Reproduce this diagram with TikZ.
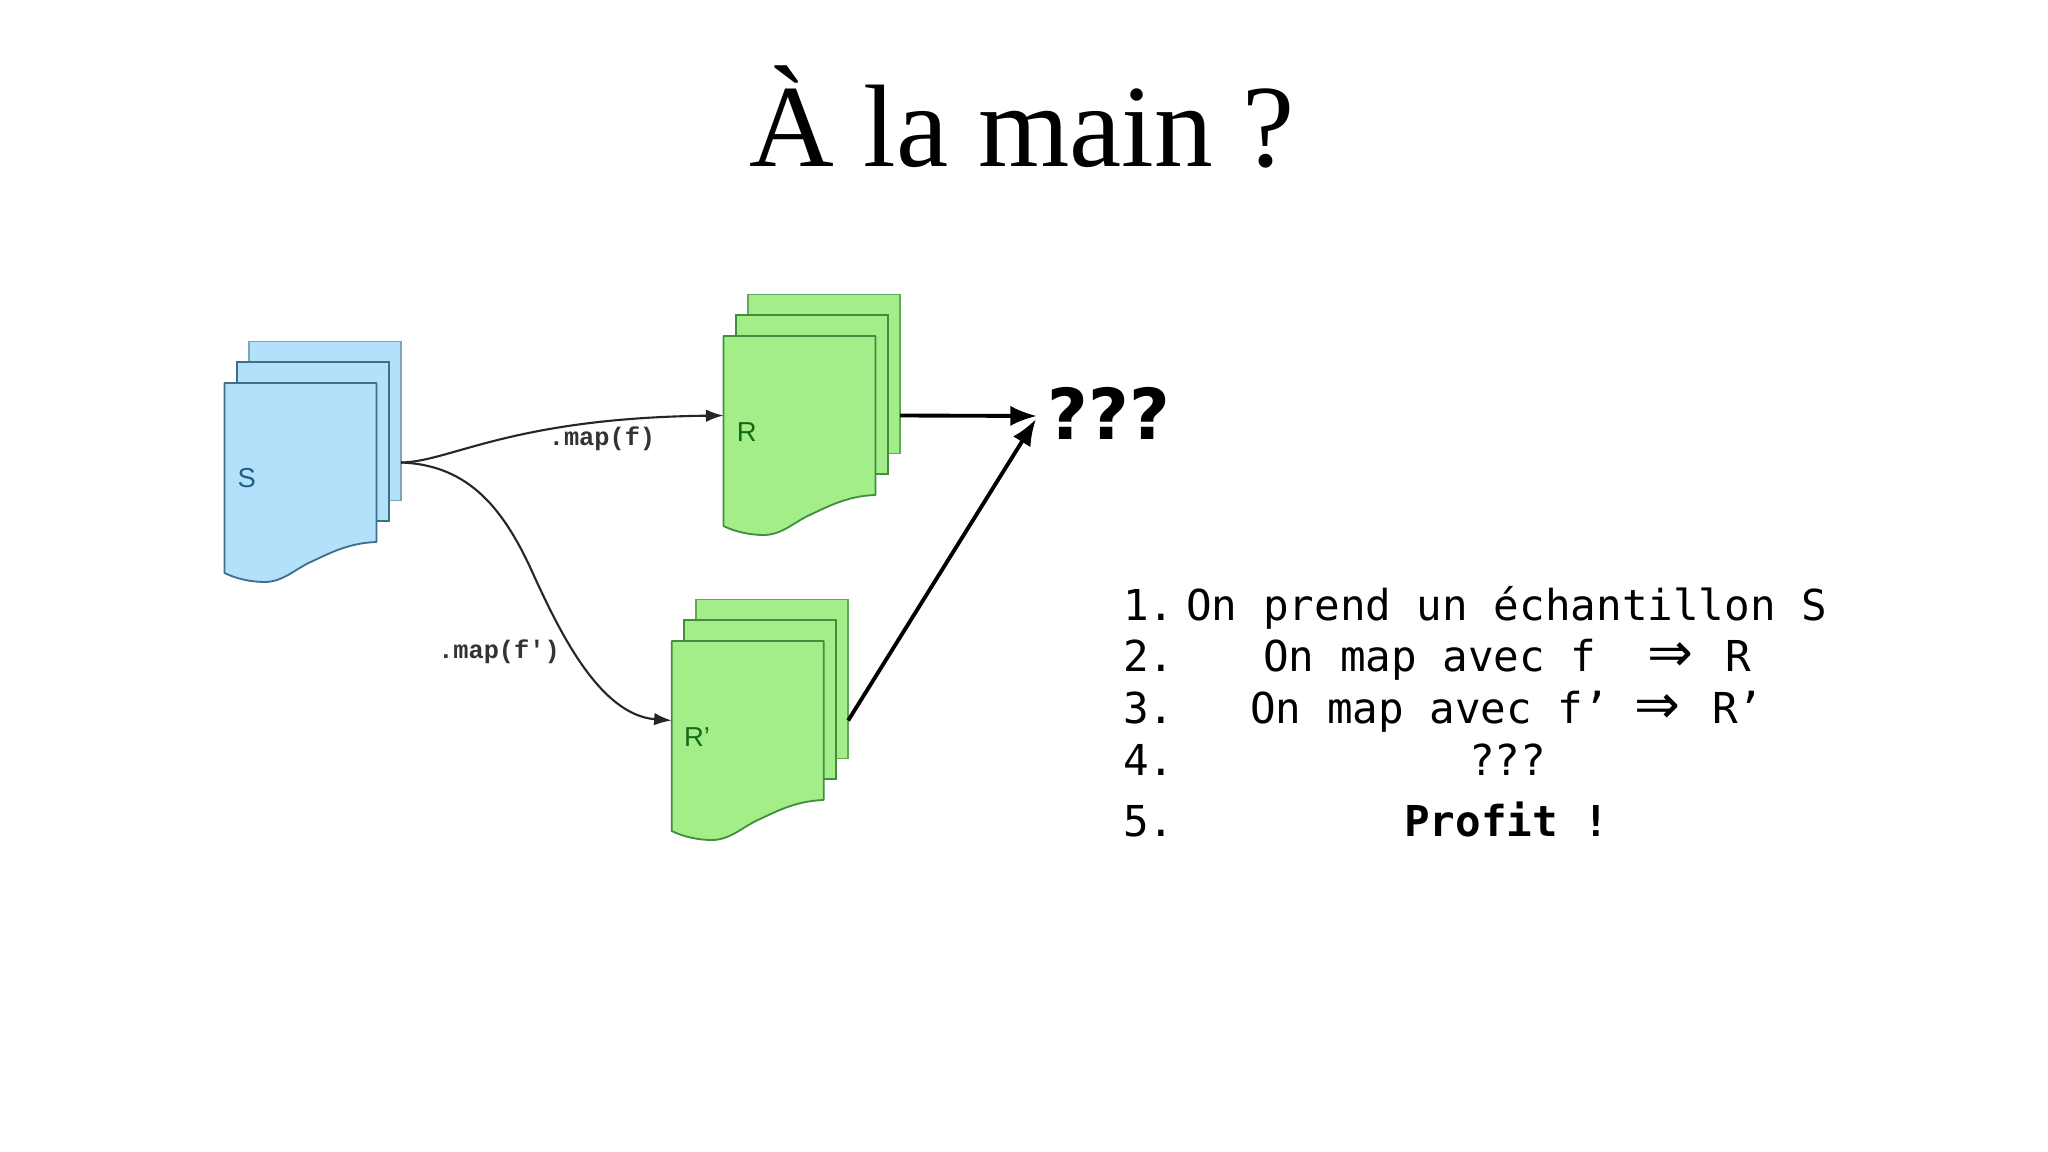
\documentclass[tikz,border=0pt]{standalone}
\usepackage{fontspec}
\setmainfont{Liberation Serif}
\setsansfont{Liberation Sans}
\setmonofont{Liberation Mono}
\newfontfamily\listfont{DejaVu Sans Mono}
\newfontfamily\arrowfont{DejaVu Sans}
\usetikzlibrary{arrows.meta}
\definecolor{sfill}{HTML}{B3E0FA}
\definecolor{sline}{HTML}{3F6F8C}
\definecolor{sback}{HTML}{7FA3BA}
\definecolor{stext}{HTML}{1F5F85}
\definecolor{gfill}{HTML}{A3EE88}
\definecolor{gline}{HTML}{3F8F3F}
\definecolor{gback}{HTML}{5FA85A}
\definecolor{gtext}{HTML}{146A14}
\tikzset{
  sheetbox/.style={rectangle,anchor=north west,inner sep=0pt,outer sep=0pt,minimum width=7.6cm,minimum height=7.95cm,line width=2.4pt},
  titletext/.style={anchor=base,inner sep=0pt,font=\fontsize{167}{190}\selectfont},
  listtext/.style={anchor=base west,inner sep=0pt,font=\listfont\fontsize{60.6}{70}\selectfont},
  maptext/.style={inner sep=0pt,font=\ttfamily\bfseries\fontsize{36}{42}\selectfont,text=black!80},
  doclabel/.style={inner sep=0pt,font=\sffamily\fontsize{39}{44}\selectfont},
  thinarrow/.style={line width=3pt,black!85,-{Latex[length=25pt,width=18pt]}},
  thickarrow/.style={line width=5.5pt,black,-{Latex[length=38pt,width=29pt]}}
}
\newcommand{\docstack}[6]{% name, x, y, fill, front line, back line
  \node[sheetbox,draw=#6,fill=#4] (#1back) at (#2+24.5,#3-41.5) {};
  \node[sheetbox,draw=#5,fill=#4] (#1mid) at (#2+12.5,#3-21) {};
  \node[sheetbox] (#1front) at (#2,#3) {};
  \begin{scope}[shift={(#1front.south east)}]
    \draw[line width=2.6pt,draw=#5,fill=#4,line join=round]
      (0,0) .. controls (-30,1) and (-50,13) .. (-68,21)
      .. controls (-85,30) and (-95,40) .. (-112,40)
      .. controls (-125,40) and (-140,37) .. (-152,31)
      -- (-152,-159) -- (0,-159) -- cycle;
  \end{scope}
}
\begin{document}
\begin{tikzpicture}[x=0.05cm,y=-0.05cm]
\useasboundingbox (0,0) rectangle (2048,1152);
\fill[white] (0,0) rectangle (2048,1152);
\node[titletext] (title) at (1022,167) {À la main ?};

\docstack{S}{224.5}{383}{sfill}{sline}{sback}
\docstack{R}{723.5}{336}{gfill}{gline}{gback}
\docstack{P}{671.7}{641}{gfill}{gline}{gback}

\node[doclabel,text=stext] (Slabel) at (246.7,478) {S};
\node[doclabel,text=gtext] (Rlabel) at (746.7,432) {R};
\node[doclabel,text=gtext] (Plabel) at (697,737) {R’};

\node[maptext] (mapf) at (602,439) {.map(f)};
\node[maptext] (mapfp) at (499,652) {.map(f′)};

\node[inner sep=0pt,font=\arrowfont\bfseries\fontsize{100}{110}\selectfont] (qmarks) at (1109,413) {???};

\coordinate (Sout) at (Sback.east |- Sfront.east);
\coordinate (Rout) at (Rback.east |- Rfront.east);
\coordinate (Pout) at (Pback.east |- Pfront.east);
\coordinate (tipa) at (1037,416);
\coordinate (tipb) at (1036,419);
\coordinate (midcurve) at (535,578);

\draw[thinarrow] (Sout) .. controls (450,462) and (510,418) .. (Rfront.west);
\draw[thinarrow] (Sout) .. controls (470,465) and (505,510) .. (midcurve)
   .. controls (560,632) and (600,715) .. (Pfront.west);
\draw[thickarrow] (Rout) -- (tipa);
\draw[thickarrow] (Pout) -- (tipb);

\node[listtext] (n1) at (1123,620) {1.};
\node[listtext] (n2) at (1123,671.5) {2.};
\node[listtext] (n3) at (1123,723) {3.};
\node[listtext] (n4) at (1123,775) {4.};
\node[listtext] (n5) at (1123,836) {5.};
\node[listtext] (l1) at (1186,620) {On prend un échantillon S};
\node[listtext] (l2) at (1263,671.5) {On map avec f~~{\arrowfont\fontsize{78}{70}\selectfont ⇒}\hspace{8pt}~R};
\node[listtext] (l3) at (1250,723) {On map avec f’~{\arrowfont\fontsize{78}{70}\selectfont ⇒}\hspace{8pt}~R’};
\node[listtext] (l4) at (1469,775) {???};
\node[listtext] (l5) at (1404,836) {\bfseries Profit !};
\end{tikzpicture}
\end{document}
